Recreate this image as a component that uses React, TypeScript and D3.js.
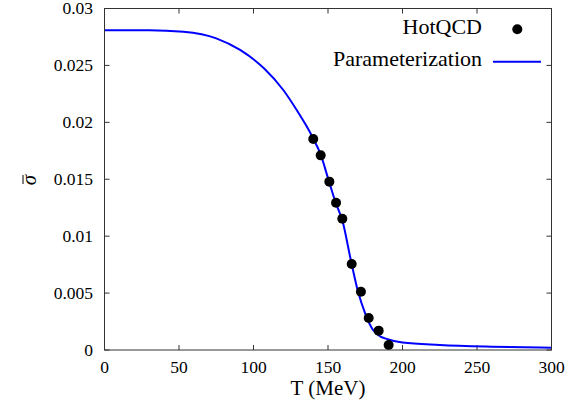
import React from "react";
import * as d3 from "d3";

// HotQCD lattice points (T in MeV, sigma-bar)
const qcdT = [140.1, 145.1, 150.9, 155.4, 159.6, 165.9, 172.1, 177.3, 184.0, 190.7];
const qcdSigma = [0.01854, 0.0171, 0.01479, 0.01294, 0.01153, 0.00755, 0.00512, 0.00281, 0.0017, 0.00044];

// parameterization curve
const curveT = [0, 30, 53, 75, 91, 107, 120, 129, 135, 140, 145, 150, 155, 160, 165, 170, 175, 180, 185, 190, 200, 225, 260, 300];
const curveSigma = [
  0.0281, 0.0281, 0.02796, 0.02738, 0.02636, 0.02475, 0.02284, 0.02108, 0.0198, 0.0186, 0.0172, 0.0151, 0.013,
  0.0112, 0.0081, 0.0052, 0.0032, 0.0018, 0.0012, 0.00095, 0.00065, 0.00044, 0.00029, 0.0002,
];

const xTicks = [0, 50, 100, 150, 200, 250, 300];
const yTicks = [0, 0.005, 0.01, 0.015, 0.02, 0.025, 0.03];
const yTickLabels = ["0", "0.005", "0.01", "0.015", "0.02", "0.025", "0.03"];

const W = 581;
const H = 407;
const left = 104.5;
const right = 551.5;
const top = 8.5;
const bottom = 350;
const serif = { fontFamily: '"Liberation Serif"' };

export default function App() {
  const x = d3.scaleLinear().domain([0, 300]).range([left, right]);
  const y = d3.scaleLinear().domain([0, 0.03]).range([bottom, top]);

  const line = d3
    .line<number>()
    .x((_, i) => x(curveT[i]))
    .y((d) => y(d))
    .curve(d3.curveMonotoneX);

  const tick = 5;

  return (
    <svg width={W} height={H} style={{ position: "absolute", left: 0, top: 0, background: "#fff" }}>
      {/* ticks on all four sides */}
      {xTicks.map((t) => (
        <g key={"x" + t}>
          <line x1={x(t)} x2={x(t)} y1={bottom} y2={bottom - tick} stroke="#333" />
          <line x1={x(t)} x2={x(t)} y1={top} y2={top + tick} stroke="#333" />
          <text x={x(t)} y={373} textAnchor="middle" style={serif} fontSize={17.5}>
            {t}
          </text>
        </g>
      ))}
      {yTicks.map((t, i) => (
        <g key={"y" + i}>
          <line x1={left} x2={left + tick} y1={y(t)} y2={y(t)} stroke="#333" />
          <line x1={right} x2={right - tick} y1={y(t)} y2={y(t)} stroke="#333" />
          <text x={93} y={y(t)} dy="0.33em" textAnchor="end" style={serif} fontSize={17.5}>
            {yTickLabels[i]}
          </text>
        </g>
      ))}

      <path d={line(curveSigma) || ""} fill="none" stroke="#0000ff" strokeWidth={2} />

      {qcdT.map((t, i) => (
        <circle key={i} cx={x(t)} cy={y(qcdSigma[i])} r={5} fill="#000" />
      ))}

      <rect x={left} y={top} width={right - left} height={bottom - top} fill="none" stroke="#333" strokeWidth={1} />

      {/* legend */}
      <text x={482} y={34} textAnchor="end" style={serif} fontSize={22}>
        HotQCD
      </text>
      <circle cx={517.3} cy={29.3} r={5} fill="#000" />
      <text x={482} y={66} textAnchor="end" style={serif} fontSize={22}>
        Parameterization
      </text>
      <line x1={493} x2={541} y1={61.7} y2={61.7} stroke="#0000ff" strokeWidth={2} />

      {/* axis labels */}
      <text x={328} y={395} textAnchor="middle" style={serif} fontSize={21}>
        T (MeV)
      </text>
      <g transform="translate(36,180) rotate(-90)">
        <text x={0} y={0} textAnchor="middle" style={serif} fontStyle="italic" fontSize={21}>
          σ
        </text>
        <line x1={-4} x2={5} y1={-13} y2={-13} stroke="#000" strokeWidth={1} />
      </g>
    </svg>
  );
}
